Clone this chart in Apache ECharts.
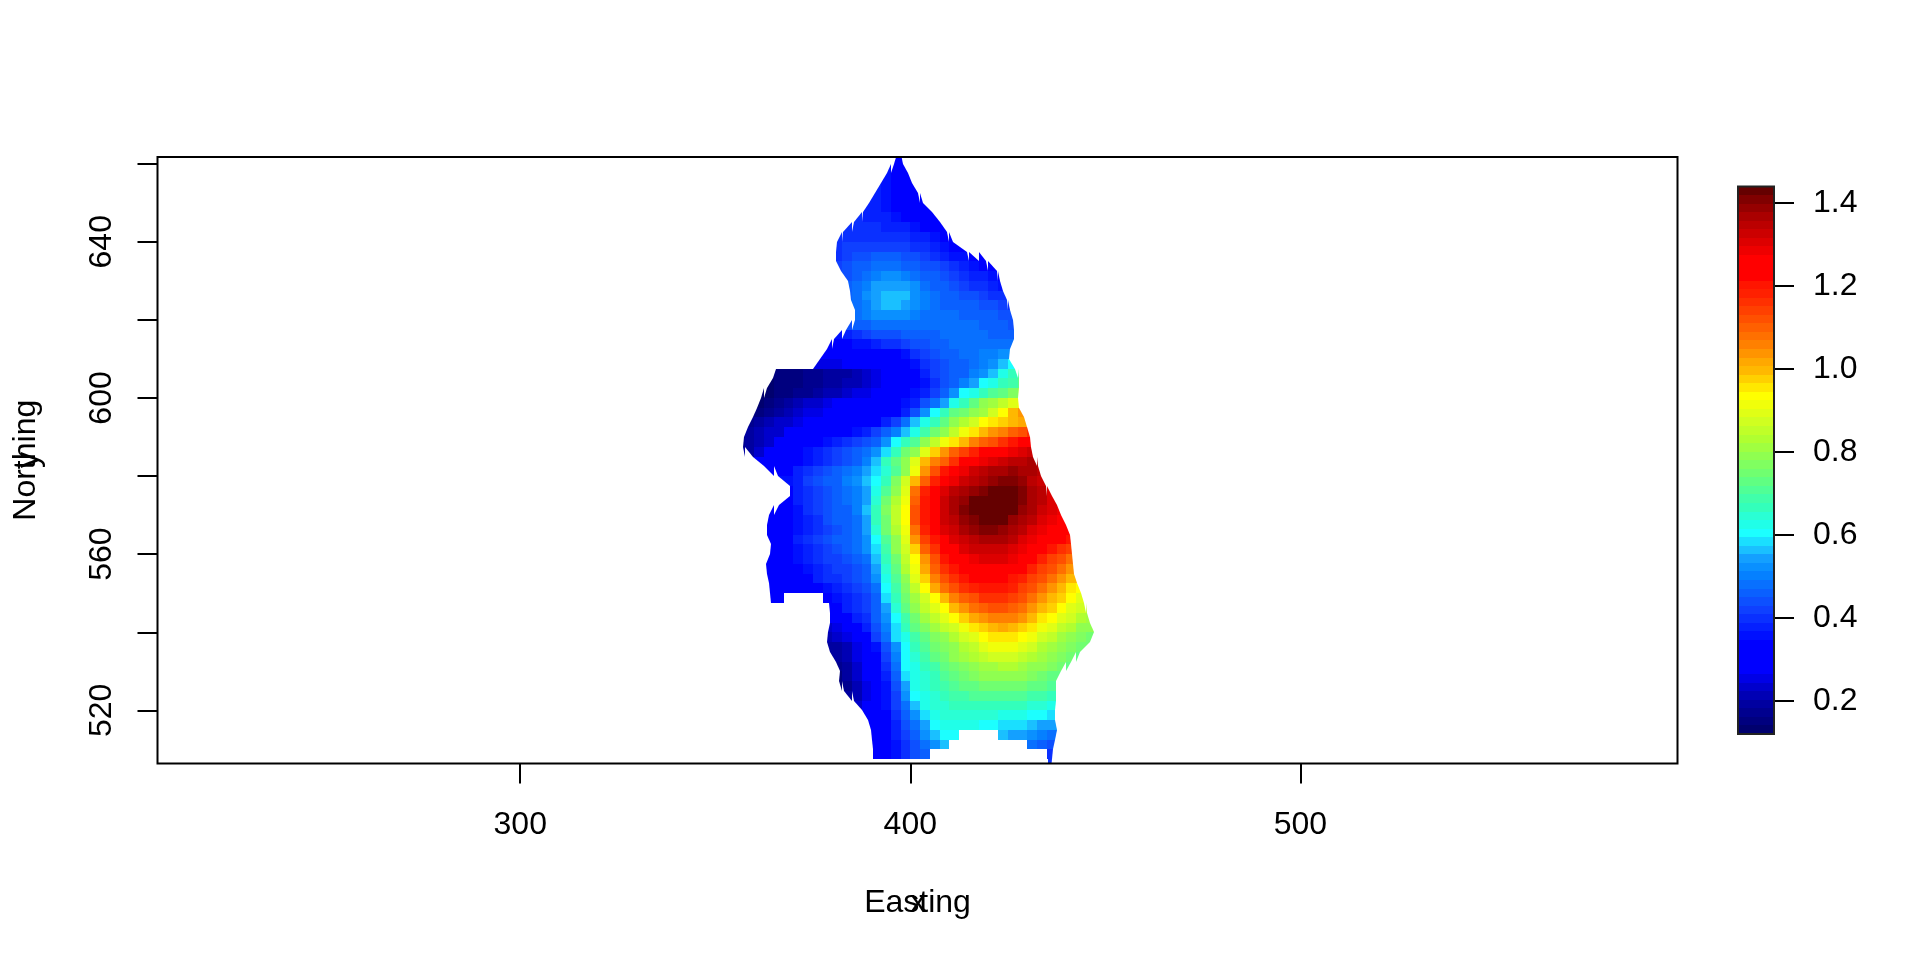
<!DOCTYPE html>
<html>
<head>
<meta charset="utf-8">
<title>Easting / Northing surface</title>
<style>html,body{margin:0;padding:0;background:#fff}#chart{width:1920px;height:960px}</style>
<script src="https://cdn.jsdelivr.net/npm/echarts@6/dist/echarts.min.js"></script>
</head>
<body>
<div id="chart"></div>
<script>
// Surface values, in hundredths. Grid cells are 2.5 x 2.5 units.
const eastingOrigin = 355, northingOrigin = 662.5, cellSize = 2.5;
const zMin = 0.12, zMax = 1.44;
const rowStartCol = [16,15,15,14,14,13,12,11,10,10,10,10,11,11,11,12,12,11,10,9,9,8,4,3,2,2,2,1,1,0,0,2,3,5,5,5,3,3,2,3,3,3,2,3,3,3,9,9,9,9,9,10,10,10,10,11,12,13,13,14,14,14,32];
const rowWest = [396.5,395,393.1,391.8,390.3,388.6,386.9,384.1,381.3,381.1,380.9,380.9,383.7,384.4,384.5,385.2,386.7,384.7,382.1,379,378.4,375.1,365.7,364,362.3,361,360.2,358.9,357.9,356.8,357.4,361.9,363.2,368.9,369.4,369,363.6,364,362.3,364,364.4,363.6,362.5,364,363.8,364.4,379.2,379.8,379.2,378.7,378.4,380.3,381.8,382,381.5,384.5,386.7,388.4,389.7,390.1,390.3,390.5,435.4];
const rowEast = [397.5,398.8,399.9,401.2,402.5,404.2,406.8,408.6,410.2,411.5,417.4,421.5,422.8,423.4,424.3,425.1,426.2,426.6,426.8,426.2,424.7,426,427.5,428.3,427.7,427.5,428.4,429.7,430.3,431.1,430.7,432,433.3,433.9,435.6,437.1,438.1,439,440.8,441.1,441.4,441.6,441.8,442,443.3,444.2,445,445.6,446.8,447.4,444.5,442.5,440.1,437.4,437.4,437.4,437.4,436.9,437.5,437.7,436.7,436.7,436];
const rowZ = [
[33,33],
[35,33,33],
[36,33,33],
[37,35,33,33,33],
[37,36,33,33,33,33],
[38,37,36,34,33,33,33],
[39,38,38,37,36,34,33,33,33],
[39,39,39,39,38,38,37,36,34,33,33],
[39,40,40,40,40,40,39,39,38,37,35,34,33],
[40,41,41,42,42,42,42,41,40,39,38,36,34],
[40,41,43,44,45,45,45,44,43,42,40,38,36,35,34,33],
[41,43,45,47,48,48,48,47,45,44,43,41,39,37,36,34,33],
[43,47,49,51,52,52,51,49,47,45,44,42,39,38,37,35,33],
[45,48,51,54,55,55,54,52,49,47,45,44,42,40,39,38,36],
[46,49,52,55,56,57,56,53,50,48,47,46,44,43,42,40,39],
[49,51,54,56,56,55,53,50,48,47,47,46,45,44,43,41,40],
[48,50,52,53,53,52,51,49,48,48,48,47,46,46,45,44,43],
[43,45,47,48,49,49,49,48,48,48,48,48,48,48,47,46,45,44],
[36,38,40,42,43,44,44,45,45,46,47,48,49,49,49,48,47,47,46],
[32,33,34,35,36,37,39,40,41,43,44,46,47,48,49,49,49,49,49,49],
[29,30,31,32,33,33,33,34,36,39,41,44,45,47,48,49,50,51,52],
[26,25,26,27,28,30,31,32,33,34,36,39,42,44,45,47,49,51,53,56,60],
[15,16,16,17,18,19,19,20,21,23,26,29,31,33,34,37,41,43,45,47,50,53,57,62,66,70],
[14,15,15,16,17,18,19,20,21,22,24,25,27,30,32,34,36,40,43,46,50,55,60,63,66,69,73],
[13,14,15,16,17,18,19,21,22,24,25,26,28,30,32,34,35,38,42,46,53,60,63,66,70,73,77,81],
[14,15,17,19,21,23,24,25,27,28,29,30,31,32,33,35,38,43,48,55,63,67,72,78,82,86,90,93],
[16,18,19,21,23,25,26,28,29,30,31,32,33,33,34,37,43,52,60,67,72,75,78,81,88,93,99,104],
[17,19,21,23,24,26,27,29,30,31,32,33,33,34,37,41,48,56,62,67,72,79,83,88,93,95,97,99,101,103],
[19,21,23,24,27,28,29,30,31,32,33,36,38,41,45,51,57,63,69,74,80,85,91,95,100,103,106,110,113,116],
[18,19,21,24,27,29,30,31,33,35,37,39,41,43,46,52,60,66,71,79,85,91,96,100,105,109,112,116,120,123,127],
[19,20,23,27,29,30,33,35,37,39,41,43,45,48,52,58,67,75,80,90,97,104,110,115,119,122,125,127,129,131,132],
[27,29,30,32,34,36,38,40,42,44,47,51,57,67,73,80,89,100,105,110,117,122,126,128,130,132,134,135,136,136],
[31,32,34,37,39,41,43,45,48,50,54,59,65,70,80,92,103,113,121,127,129,132,134,136,137,138,137,136,135],
[35,38,41,43,45,47,50,53,56,60,67,76,87,100,110,118,125,129,132,135,137,139,140,140,138,135,132],
[34,37,40,42,44,46,49,51,55,62,71,80,90,108,118,125,130,134,136,139,141,142,142,142,140,137,134,131],
[34,37,40,42,44,46,48,50,55,65,74,83,92,110,120,127,132,136,139,142,143,144,144,143,141,137,134,131],
[31,31,33,36,39,41,43,45,47,50,56,67,76,85,93,112,120,127,133,136,140,143,144,144,144,142,139,136,133,131,129],
[31,32,34,36,38,40,43,45,47,49,55,67,75,85,93,112,120,127,132,135,138,141,142,143,142,139,137,134,131,129,127],
[31,31,31,34,36,38,40,42,44,46,48,54,65,74,83,91,107,118,125,130,133,136,138,140,140,139,137,134,131,128,126,124,122],
[30,31,34,37,39,41,43,45,47,49,53,60,70,80,90,103,114,121,126,130,133,135,136,137,136,134,131,129,126,124,122,120],
[30,30,33,36,38,40,42,44,46,48,52,59,68,78,88,98,109,117,122,127,130,132,133,133,133,131,129,126,123,120,117,114],
[30,30,32,35,37,39,41,42,44,46,49,57,66,75,85,93,104,113,120,124,127,129,130,130,130,128,126,122,119,115,112,108],
[30,30,30,31,33,36,38,39,41,42,44,47,54,64,73,83,92,101,109,116,121,124,126,127,127,126,124,122,118,115,111,108,104],
[30,30,31,32,34,37,39,40,42,44,46,52,62,71,80,90,98,106,112,117,120,123,124,124,123,120,118,115,111,107,103,100],
[30,30,30,31,32,34,36,37,39,41,43,49,60,69,77,86,93,101,107,112,116,119,120,121,120,118,115,112,108,104,100,96,93],
[30,30,null,null,null,null,34,36,38,40,42,46,58,67,75,82,87,93,99,105,110,113,116,117,116,114,112,108,104,100,97,93,90],
[30,34,37,39,41,46,55,64,72,79,85,90,94,99,103,107,110,111,111,109,107,104,100,97,93,90,87,85],
[27,30,33,37,40,45,52,60,68,75,81,86,90,93,97,101,104,106,106,105,103,100,96,93,90,87,84,82],
[24,25,27,32,38,43,50,59,66,72,77,82,85,88,92,95,98,100,101,100,98,95,92,89,86,83,80,78],
[21,23,25,27,33,41,48,59,63,69,73,77,80,84,87,90,93,95,96,95,93,91,88,85,82,80,77,74],
[19,20,22,26,30,35,43,53,61,66,70,74,77,80,83,86,89,91,92,91,90,87,84,82,79,76,74],
[19,22,26,30,34,41,51,61,65,69,72,75,78,81,83,85,87,88,87,86,84,82,79,77,74,72],
[17,20,24,29,33,39,49,60,63,66,69,72,75,77,79,81,82,83,83,82,80,78,76,74,72],
[16,19,23,27,33,38,47,58,62,65,67,70,72,74,76,78,79,79,79,78,77,75,73],
[15,18,22,26,31,36,44,55,62,64,66,68,70,72,73,74,75,75,75,74,73,72,70],
[19,22,25,30,35,42,52,61,63,65,67,68,69,70,71,71,71,71,70,69,68,67],
[24,27,31,35,41,49,57,62,64,65,66,66,67,67,67,67,67,66,65,64,63],
[29,32,34,39,45,52,59,63,64,64,64,64,64,64,63,63,62,61,60,59],
[31,33,34,38,43,49,55,60,62,62,62,62,61,60,59,58,58,57,55,54,52],
[33,34,37,41,46,52,56,60,60,null,null,null,null,57,55,54,53,51,49,47],
[33,34,36,40,44,49,53,56,null,null,null,null,null,null,null,null,48,46,44],
[33,34,36,39,43,47,null,null,null,null,null,null,null,null,null,null,null,null,40],
[40]
];
// Bottom-to-top colour bands of the key.
const bandColors = ['#00006E','#00007F','#00008F','#0000A0','#0000B4','#0000CC','#0000E6','#0000FF','#0000FF','#0000FF','#0000FF','#0010FF','#0520FF','#0A30FF','#0F40FF','#0D50FF','#0A60FF','#0870FF','#0580FF','#0A90FF','#14A0FF','#1AC0FF','#1ADFFF','#1CFFFF','#20FFE8','#2AFFD4','#33FFBB','#40FFAA','#50FF96','#60FF82','#70FF70','#80FF60','#8FFF50','#A0FF40','#B0FF30','#C0FF28','#D0FF20','#E0FF15','#F0FF0A','#FFFF00','#FFE800','#FFD000','#FFB800','#FFA800','#FF9400','#FF8000','#FF7000','#FF6000','#FF5000','#FF4000','#FF3000','#FF2000','#FF1500','#FF0000','#FF0000','#FF0000','#EE0000','#DD0000','#CC0000','#BB0000','#AA0000','#950000','#800000','#650000'];
const eastingTicks = [300,400,500];
const northingTicks = [520,540,560,580,600,620,640,660];
const northingLabels = [520,560,600,640];
const keyTicks = [0.2,0.4,0.6,0.8,1.0,1.2,1.4];

function bandOf(z){
  const k = Math.floor((z - zMin) / (zMax - zMin) * bandColors.length);
  return bandColors[Math.max(0, Math.min(bandColors.length - 1, k))];
}
// The outline is slanted between neighbouring rows; big steps stay as steps.
function edgeAt(list, j, d){
  const other = list[j + d];
  if (other === undefined || Math.abs(other - list[j]) > 7) return list[j];
  return (other + list[j]) / 2;
}
const clamp = (v, a, b) => Math.max(a, Math.min(b, v));
const surfaceCells = [];
rowZ.forEach((row, j) => {
  const top = northingOrigin - cellSize * j;
  const wT = edgeAt(rowWest, j, -1), wB = edgeAt(rowWest, j, 1);
  const eT = edgeAt(rowEast, j, -1), eB = edgeAt(rowEast, j, 1);
  row.forEach((h, n) => {
    if (h === null) return;
    const c = rowStartCol[j] + n;
    const cL = eastingOrigin + c * cellSize, cR = cL + cellSize;
    const first = n === 0, last = n === row.length - 1;
    const lt = first ? Math.min(wT, cR) : clamp(wT, cL, cR);
    const lb = first ? Math.min(wB, cR) : clamp(wB, cL, cR);
    const rt = last ? Math.max(eT, cL) : clamp(eT, cL, cR);
    const rb = last ? Math.max(eB, cL) : clamp(eB, cL, cR);
    if (rt > lt || rb > lb) surfaceCells.push([lt, lb, rt, rb, top, top - cellSize, h / 100]);
  });
});
const keyCells = bandColors.map((color, k) => {
  const step = (zMax - zMin) / bandColors.length;
  return [zMin + k * step, zMin + (k + 1) * step, color];
});

const FONT = '"Liberation Sans", Arial, Helvetica, sans-serif';
const chart = echarts.init(document.getElementById('chart'), null, {renderer: 'canvas'});
function rect(a, b, color){
  const x0 = Math.round(Math.min(a[0], b[0])), x1 = Math.round(Math.max(a[0], b[0]));
  const y0 = Math.round(Math.min(a[1], b[1])), y1 = Math.round(Math.max(a[1], b[1]));
  return {type: 'rect', shape: {x: x0, y: y0, width: x1 - x0, height: y1 - y0}, style: {fill: color}};
}
const tickStyle = {show: true, length: 20, lineStyle: {color: '#000', width: 2}};
chart.setOption({
  animation: false,
  backgroundColor: '#fff',
  textStyle: {fontFamily: FONT},
  grid: [
    {left: 157.5, top: 157, width: 1520, height: 606.5, show: true, borderColor: '#000', borderWidth: 2, backgroundColor: 'transparent', containLabel: false, outerBoundsMode: 'none', z: 3},
    {left: 1738, top: 186.5, width: 36, height: 547.5, show: true, borderColor: '#222', borderWidth: 2, backgroundColor: 'transparent', containLabel: false, outerBoundsMode: 'none', z: 3}
  ],
  xAxis: [
    {type: 'value', gridIndex: 0, min: 207, max: 596.7, position: 'bottom', splitLine: {show: false}, axisLine: {show: false, onZero: false},
     axisTick: Object.assign({customValues: eastingTicks}, tickStyle),
     axisLabel: {customValues: eastingTicks, fontSize: 32, color: '#000', margin: 46, fontFamily: FONT},
     name: 'Easting', nameLocation: 'middle', nameGap: 124, nameTextStyle: {fontSize: 32, color: '#000', fontFamily: FONT}},
    {type: 'value', gridIndex: 1, min: 0, max: 1, show: false}
  ],
  yAxis: [
    {type: 'value', gridIndex: 0, min: 506.4, max: 661.7, position: 'left', splitLine: {show: false}, axisLine: {show: false, onZero: false},
     axisTick: Object.assign({customValues: northingTicks}, tickStyle),
     axisLabel: {customValues: northingLabels, rotate: 90, fontSize: 32, color: '#000', margin: 39, fontFamily: FONT},
     name: 'Northing', nameLocation: 'middle', nameGap: 115.5, nameRotate: 90, nameTextStyle: {fontSize: 32, color: '#000', fontFamily: FONT}},
    {type: 'value', gridIndex: 1, min: zMin, max: zMax, position: 'right', splitLine: {show: false}, axisLine: {show: false, onZero: false},
     axisTick: Object.assign({customValues: keyTicks}, tickStyle),
     axisLabel: {customValues: keyTicks, fontSize: 32, color: '#000', margin: 39, padding: [5, 0, 0, 0], fontFamily: FONT, formatter: v => Number(v).toFixed(1)}}
  ],
  series: [
    {type: 'custom', name: 'surface', coordinateSystem: 'cartesian2d', xAxisIndex: 0, yAxisIndex: 0, clip: true, silent: true,
     encode: {x: [0, 1, 2, 3], y: [4, 5]}, data: surfaceCells,
     renderItem: (p, api) => {
       const top = api.value(4), bottom = api.value(5);
       const pts = [[api.value(0), top], [api.value(2), top], [api.value(3), bottom], [api.value(1), bottom]]
         .map(q => api.coord(q).map(Math.round));
       return {type: 'polygon', shape: {points: pts}, style: {fill: bandOf(api.value(6))}};
     }},
    {type: 'custom', name: 'key', coordinateSystem: 'cartesian2d', xAxisIndex: 1, yAxisIndex: 1, clip: true, silent: true,
     encode: {y: [0, 1]}, data: keyCells,
     renderItem: (p, api) => rect(api.coord([0, api.value(0)]), api.coord([1, api.value(1)]), keyCells[p.dataIndex][2])}
  ],
  graphic: [
    {type: 'text', x: 918, y: 903, style: {text: 'x', font: '32px ' + FONT, fill: '#000', align: 'center', verticalAlign: 'middle'}},
    {type: 'text', x: 29, y: 460, rotation: Math.PI / 2, style: {text: 'y', font: '32px ' + FONT, fill: '#000', align: 'center', verticalAlign: 'middle'}}
  ]
});
</script>
</body>
</html>
